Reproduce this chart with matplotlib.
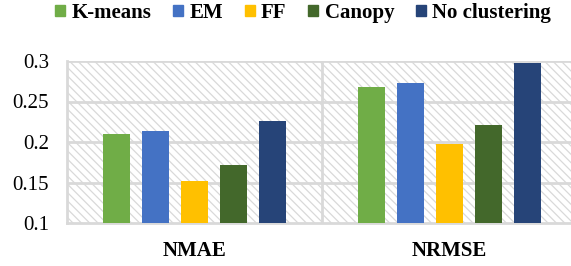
import matplotlib
matplotlib.use("Agg")
import matplotlib.pyplot as plt
from matplotlib.patches import Patch, Rectangle
import numpy as np

metrics = ["NMAE", "NRMSE"]
methods = ["K-means", "EM", "FF", "Canopy", "No clustering"]
kmeans = [0.210, 0.268]
em = [0.214, 0.273]
ff = [0.152, 0.197]
canopy = [0.172, 0.221]
no_clustering = [0.226, 0.298]
yticks = [0.1, 0.15, 0.2, 0.25, 0.3]

series = [kmeans, em, ff, canopy, no_clustering]
colors = ["#70ad47", "#4472c4", "#ffc000", "#43682b", "#264478"]

plt.rcParams["font.family"] = ["Liberation Serif", "DejaVu Serif"]
plt.rcParams["hatch.linewidth"] = 0.9
grid_col = "#d9d9d9"

fig = plt.figure(figsize=(5.71, 2.66), dpi=100)
ax = fig.add_axes([67/571, 43/266, 510/571, 162/266])
ax.set_facecolor("none")

# hatched plot area background
bg = Rectangle((0, 0), 1, 1, transform=ax.transAxes, facecolor="white",
               edgecolor=grid_col, hatch="\\\\\\\\", linewidth=0, zorder=0)
ax.add_patch(bg)

x = np.arange(len(metrics))
step = 0.152
width = 0.106
for i, (vals, c, name) in enumerate(zip(series, colors, methods)):
    ax.bar(x + (i - 2) * step, np.array(vals) - 0.1, width, bottom=0.1,
           color=c, label=name, zorder=3)

ax.set_xlim(-0.5, 1.5)
ax.set_ylim(0.1, 0.3)
ax.set_yticks(yticks)
ax.set_yticklabels(["0.1", "0.15", "0.2", "0.25", "0.3"], fontsize=15)
ax.set_xticks(x)
ax.set_xticklabels(metrics, fontsize=15, fontweight="bold")
ax.tick_params(axis="y", length=0, pad=13)
ax.tick_params(axis="x", length=0, pad=13)

for yv in yticks[1:]:
    ax.axhline(yv, color=grid_col, lw=2, zorder=1)
ax.axvline(0.5, color=grid_col, lw=2, zorder=1)
for s in ["top", "right"]:
    ax.spines[s].set_visible(False)
for s in ["left", "bottom"]:
    ax.spines[s].set_color(grid_col)
    ax.spines[s].set_linewidth(2)

handles = [Patch(color=c, label=m) for c, m in zip(colors, methods)]
fig.legend(handles=handles, loc="center", bbox_to_anchor=(303/571, 1 - 13/266), ncol=5,
           frameon=False, handlelength=0.48, handleheight=0.48, handletextpad=0.3,
           columnspacing=1.05, borderpad=0, prop={"weight": "bold", "size": 15})

fig.savefig("out.png", dpi=100)
